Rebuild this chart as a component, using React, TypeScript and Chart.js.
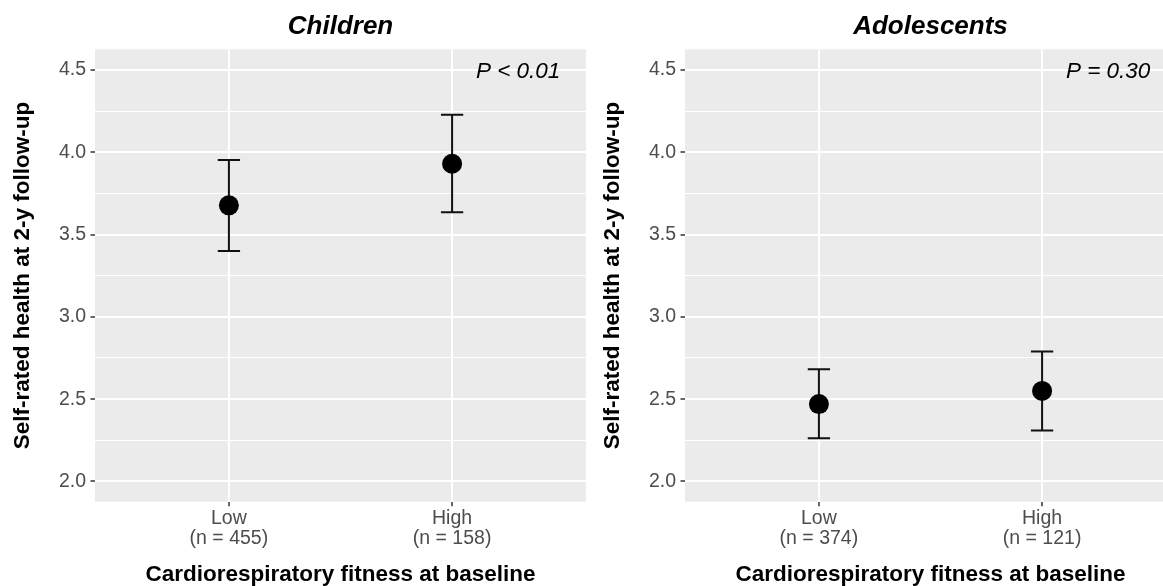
import React, { useEffect, useRef } from "react";
import { Chart, registerables } from "chart.js";

Chart.register(...registerables);

// ---- data ----
const CATEGORIES = ["Low", "High"];
const CHILD_N = ["(n = 455)", "(n = 158)"];
const ADOL_N = ["(n = 374)", "(n = 121)"];
const CHILD_MEAN = [3.677, 3.93];
const CHILD_LOWER = [3.4, 3.635];
const CHILD_UPPER = [3.953, 4.227];
const ADOL_MEAN = [2.47, 2.55];
const ADOL_LOWER = [2.262, 2.31];
const ADOL_UPPER = [2.682, 2.79];
const Y_MAJOR_TICKS = [2.0, 2.5, 3.0, 3.5, 4.0, 4.5];
const Y_MINOR_TICKS = [2.25, 2.75, 3.25, 3.75, 4.25];
const PANEL_TITLES = ["Children", "Adolescents"];
const P_LABELS = ["P < 0.01", "P = 0.30"];
const P_LABEL_POS = { x: 2.485, y: 4.5 };
const Y_TITLE = "Self-rated health at 2-y follow-up";
const X_TITLE = "Cardiorespiratory fitness at baseline";
const Y_MIN = 1.877;
const Y_MAX = 4.625;
const X_MIN = 0.4;
const X_MAX = 2.6;
const ERRORBAR_WIDTH = 0.1;

const FAMILY = "'Liberation Sans', Arial, Helvetica, sans-serif";

type PanelData = {
  title: string;
  pLabel: string;
  n: string[];
  mean: number[];
  lower: number[];
  upper: number[];
};

const PANELS: PanelData[] = [
  { title: PANEL_TITLES[0], pLabel: P_LABELS[0], n: CHILD_N, mean: CHILD_MEAN, lower: CHILD_LOWER, upper: CHILD_UPPER },
  { title: PANEL_TITLES[1], pLabel: P_LABELS[1], n: ADOL_N, mean: ADOL_MEAN, lower: ADOL_LOWER, upper: ADOL_UPPER },
];

const isMajor = (v: number) => Y_MAJOR_TICKS.some((m) => Math.abs(m - v) < 1e-6);

function makeConfig(panel: PanelData): any {
  const points = panel.mean.map((m, i) => ({ x: i + 1, y: m }));

  const panelPlugin = {
    id: "panelDecor",
    beforeDraw(chart: any) {
      const { ctx, chartArea: a } = chart;
      ctx.save();
      ctx.fillStyle = "#EBEBEB";
      ctx.fillRect(a.left, a.top, a.right - a.left, a.bottom - a.top);
      ctx.restore();
    },
    beforeDatasetsDraw(chart: any) {
      const { ctx } = chart;
      const xs = chart.scales.x;
      const ys = chart.scales.y;
      ctx.save();
      ctx.strokeStyle = "#111111";
      ctx.lineWidth = 2;
      ctx.lineCap = "butt";
      panel.mean.forEach((_, i) => {
        const x = xs.getPixelForValue(i + 1);
        const xl = xs.getPixelForValue(i + 1 - ERRORBAR_WIDTH / 2);
        const xr = xs.getPixelForValue(i + 1 + ERRORBAR_WIDTH / 2);
        const yl = ys.getPixelForValue(panel.lower[i]);
        const yu = ys.getPixelForValue(panel.upper[i]);
        ctx.beginPath();
        ctx.moveTo(x, yl);
        ctx.lineTo(x, yu);
        ctx.moveTo(xl, yl);
        ctx.lineTo(xr, yl);
        ctx.moveTo(xl, yu);
        ctx.lineTo(xr, yu);
        ctx.stroke();
      });
      ctx.restore();
    },
    afterDraw(chart: any) {
      const { ctx, chartArea: a } = chart;
      const xs = chart.scales.x;
      const ys = chart.scales.y;
      ctx.save();
      ctx.fillStyle = "#000000";
      ctx.font = `italic bold 26px ${FAMILY}`;
      ctx.textAlign = "center";
      ctx.textBaseline = "alphabetic";
      ctx.fillText(panel.title, (a.left + a.right) / 2, 34.3);
      ctx.font = `italic 22.5px ${FAMILY}`;
      ctx.textAlign = "right";
      ctx.fillText(panel.pLabel, xs.getPixelForValue(P_LABEL_POS.x), ys.getPixelForValue(P_LABEL_POS.y) + 8.5);
      ctx.restore();
    },
  };

  return {
    type: "scatter",
    data: {
      datasets: [
        {
          data: points,
          pointRadius: 10,
          pointHoverRadius: 10,
          pointBackgroundColor: "#000000",
          pointBorderColor: "#000000",
          pointBorderWidth: 0,
          showLine: false,
        },
      ],
    },
    options: {
      responsive: false,
      maintainAspectRatio: false,
      animation: false,
      events: [],
      layout: { autoPadding: false, padding: { top: 49.3, right: 4, bottom: 0, left: 0 } },
      plugins: {
        legend: { display: false },
        tooltip: { enabled: false },
        title: { display: false },
      },
      scales: {
        x: {
          type: "linear",
          min: X_MIN,
          max: X_MAX,
          bounds: "data",
          afterBuildTicks: (s: any) => {
            s.ticks = CATEGORIES.map((_, i) => ({ value: i + 1 }));
          },
          afterFit: (s: any) => {
            s.height = 84.3;
          },
          ticks: {
            autoSkip: false,
            maxRotation: 0,
            minRotation: 0,
            padding: 2,
            color: "#4D4D4D",
            font: { family: FAMILY, size: 19.5, lineHeight: 1.05 },
            callback: (v: number) => {
              const i = Math.round(v) - 1;
              return [CATEGORIES[i], panel.n[i]];
            },
          },
          grid: {
            color: "#FFFFFF",
            lineWidth: 2,
            drawTicks: true,
            tickLength: 4.5,
            tickWidth: 1.5,
            tickColor: "#333333",
          },
          border: { display: false },
          title: {
            display: true,
            text: X_TITLE,
            color: "#000000",
            font: { family: FAMILY, size: 22.5, weight: "bold", lineHeight: 1 },
            padding: { top: 0, bottom: 0 },
          },
        },
        y: {
          type: "linear",
          min: Y_MIN,
          max: Y_MAX,
          bounds: "data",
          afterBuildTicks: (s: any) => {
            s.ticks = [...Y_MAJOR_TICKS, ...Y_MINOR_TICKS]
              .sort((a, b) => a - b)
              .map((v) => ({ value: v }));
          },
          afterFit: (s: any) => {
            s.width = 95;
          },
          ticks: {
            autoSkip: false,
            padding: 4.5,
            color: "#4D4D4D",
            font: { family: FAMILY, size: 19.5 },
            callback: (v: number) => (isMajor(v) ? v.toFixed(1) : ""),
          },
          grid: {
            color: "#FFFFFF",
            lineWidth: (c: any) => (isMajor(c.tick.value) ? 2 : 1),
            drawTicks: true,
            tickLength: 4.5,
            tickWidth: 1.5,
            tickColor: (c: any) => (isMajor(c.tick.value) ? "#333333" : "rgba(0,0,0,0)"),
          },
          border: { display: false },
          title: {
            display: true,
            text: Y_TITLE,
            color: "#000000",
            font: { family: FAMILY, size: 22.5, weight: "bold", lineHeight: 1 },
            padding: { top: 11.75, bottom: 0 },
          },
        },
      },
    },
    plugins: [panelPlugin],
  };
}

function Panel({ index, left }: { index: number; left: number }) {
  const ref = useRef<HTMLCanvasElement>(null);
  useEffect(() => {
    if (!ref.current) return;
    const chart = new Chart(ref.current, makeConfig(PANELS[index]));
    return () => chart.destroy();
  }, [index]);
  return (
    <canvas
      ref={ref}
      width={590}
      height={586}
      style={{ position: "absolute", left, top: 0, width: 590, height: 586 }}
    />
  );
}

export default function App() {
  return (
    <div
      style={{
        position: "absolute",
        left: 0,
        top: 0,
        width: 1163,
        height: 586,
        overflow: "hidden",
        background: "#FFFFFF",
      }}
    >
      <Panel index={0} left={0} />
      <Panel index={1} left={590} />
    </div>
  );
}
